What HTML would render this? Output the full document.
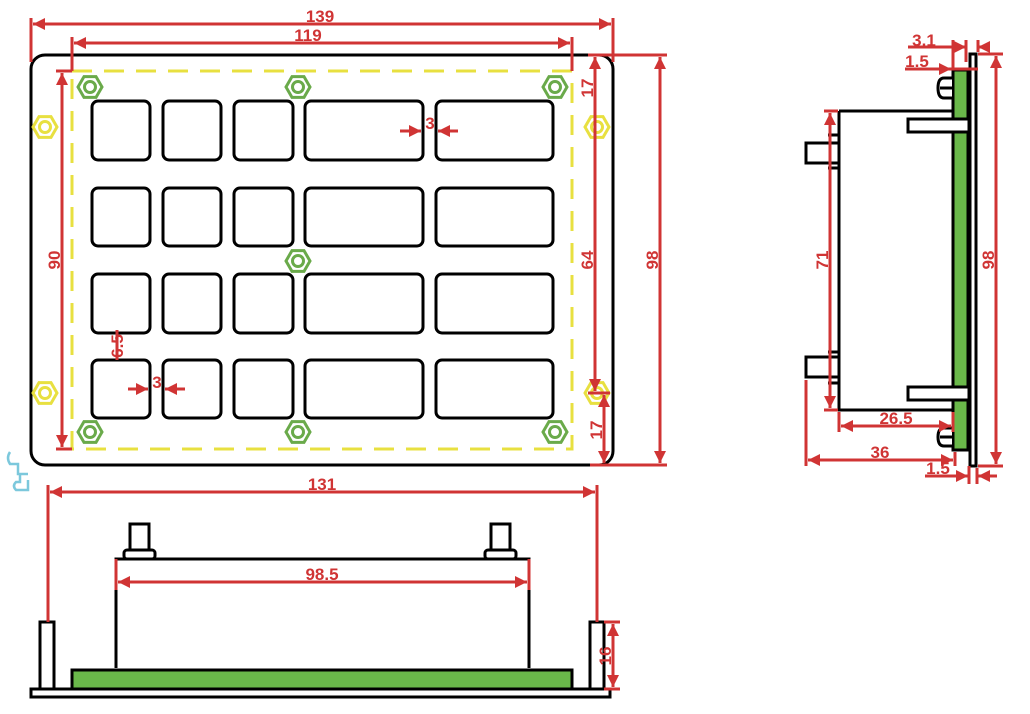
<!DOCTYPE html>
<html><head><meta charset="utf-8"><style>
html,body{margin:0;padding:0;background:#fff;}
svg{display:block;}
text{font-family:"Liberation Sans",sans-serif;font-weight:bold;fill:#d03434;font-size:17px;}
</style></head><body>
<svg width="1030" height="714" viewBox="0 0 1030 714" xmlns="http://www.w3.org/2000/svg">
<defs>
<marker id="a" viewBox="0 0 10 10" refX="10" refY="5" markerWidth="5" markerHeight="4" orient="auto-start-reverse"><path d="M0,0 L10,5 L0,10 z" fill="#d03434"/></marker>
<g id="hg"><polygon points="-12,0 -6,-10.4 6,-10.4 12,0 6,10.4 -6,10.4" fill="none" stroke="#6aaa4a" stroke-width="3"/><circle r="5.5" fill="none" stroke="#6aaa4a" stroke-width="3"/></g>
<g id="hy"><polygon points="-12,0 -6,-10.4 6,-10.4 12,0 6,10.4 -6,10.4" fill="none" stroke="#e8e040" stroke-width="3"/><circle r="5.5" fill="none" stroke="#e8e040" stroke-width="3"/></g>
</defs>

<!-- FRONT VIEW -->
<rect x="31" y="55" width="582" height="410" rx="14" fill="none" stroke="#000" stroke-width="3"/>
<rect x="72" y="71" width="500" height="378" fill="none" stroke="#e8e040" stroke-width="3" stroke-dasharray="20,12"/>
<g fill="none" stroke="#000" stroke-width="3">
<rect x="92" y="101" width="58" height="59" rx="6"/><rect x="163" y="101" width="58" height="59" rx="6"/><rect x="234" y="101" width="59" height="59" rx="6"/><rect x="305" y="101" width="118" height="59" rx="6"/><rect x="436" y="101" width="117" height="59" rx="6"/>
<rect x="92" y="188" width="58" height="58" rx="6"/><rect x="163" y="188" width="58" height="58" rx="6"/><rect x="234" y="188" width="59" height="58" rx="6"/><rect x="305" y="188" width="118" height="58" rx="6"/><rect x="436" y="188" width="117" height="58" rx="6"/>
<rect x="92" y="274" width="58" height="59" rx="6"/><rect x="163" y="274" width="58" height="59" rx="6"/><rect x="234" y="274" width="59" height="59" rx="6"/><rect x="305" y="274" width="118" height="59" rx="6"/><rect x="436" y="274" width="117" height="59" rx="6"/>
<rect x="92" y="360" width="58" height="58" rx="6"/><rect x="163" y="360" width="58" height="58" rx="6"/><rect x="234" y="360" width="59" height="58" rx="6"/><rect x="305" y="360" width="118" height="58" rx="6"/><rect x="436" y="360" width="117" height="58" rx="6"/>
</g>
<use href="#hg" x="90" y="87"/><use href="#hg" x="298" y="87"/><use href="#hg" x="555" y="87"/><use href="#hg" x="298" y="261"/>
<use href="#hg" x="90" y="432"/><use href="#hg" x="298" y="432"/><use href="#hg" x="555" y="432"/>
<use href="#hy" x="45" y="127"/><use href="#hy" x="597" y="127"/><use href="#hy" x="45" y="393"/><use href="#hy" x="597" y="393"/>

<g stroke="#d03434" stroke-width="3" fill="none">
<line x1="31" y1="18" x2="31" y2="62"/><line x1="613" y1="18" x2="613" y2="62"/>
<line x1="33" y1="24" x2="611" y2="24" marker-start="url(#a)" marker-end="url(#a)"/>
<line x1="72" y1="37" x2="72" y2="71"/><line x1="572" y1="37" x2="572" y2="71"/>
<line x1="74" y1="43" x2="570" y2="43" marker-start="url(#a)" marker-end="url(#a)"/>
<line x1="56" y1="71" x2="72" y2="71"/><line x1="56" y1="449" x2="72" y2="449"/>
<line x1="62" y1="73" x2="62" y2="447" marker-start="url(#a)" marker-end="url(#a)"/>
<line x1="588" y1="55" x2="667" y2="55"/><line x1="590" y1="465" x2="667" y2="465"/>
<line x1="660" y1="57" x2="660" y2="463" marker-start="url(#a)" marker-end="url(#a)"/>
<line x1="595" y1="57" x2="595" y2="391" marker-start="url(#a)" marker-end="url(#a)"/>
<line x1="588" y1="393" x2="610" y2="393"/>
<line x1="604" y1="395" x2="604" y2="463" marker-start="url(#a)" marker-end="url(#a)"/>
<line x1="400" y1="131" x2="421" y2="131" marker-end="url(#a)"/><line x1="458" y1="131" x2="438" y2="131" marker-end="url(#a)"/>
<line x1="128" y1="389" x2="148" y2="389" marker-end="url(#a)"/><line x1="185" y1="389" x2="165" y2="389" marker-end="url(#a)"/>
<line x1="117" y1="330" x2="117" y2="360"/>
</g>
<text x="320" y="22" text-anchor="middle">139</text>
<text x="308" y="41" text-anchor="middle">119</text>
<text x="430" y="129" text-anchor="middle">3</text>
<text x="157" y="388" text-anchor="middle">3</text>
<text transform="translate(62,260) rotate(-90)" text-anchor="middle" y="-2">90</text>
<text transform="translate(595,260) rotate(-90)" text-anchor="middle" y="-2">64</text>
<text transform="translate(660,260) rotate(-90)" text-anchor="middle" y="-2">98</text>
<text transform="translate(595,88) rotate(-90)" text-anchor="middle" y="-2">17</text>
<text transform="translate(604,430) rotate(-90)" text-anchor="middle" y="-2">17</text>
<text transform="translate(117,346) rotate(-90)" text-anchor="middle" y="6">6.5</text>
<path d="M10,452 q-4,6 0,12 h8 v10 h10 M20,474 v8 h-4 q-4,4 0,8 h12 v-10" fill="none" stroke="#7cc8dc" stroke-width="2.5"/>

<!-- SIDE VIEW -->
<g stroke="#000" stroke-width="3" fill="#fff">
<rect x="953" y="70" width="15" height="380" fill="#6ab84a"/>
<rect x="970" y="54" width="6" height="412"/>
<path d="M839,111 H953 M839,111 V410 H953" fill="none"/>
<rect x="806" y="143" width="33" height="20"/><rect x="806" y="357" width="33" height="20"/>
<line x1="828" y1="135" x2="840" y2="135"/><line x1="828" y1="168" x2="840" y2="168"/>
<line x1="828" y1="352" x2="840" y2="352"/><line x1="828" y1="383" x2="840" y2="383"/>
<rect x="908" y="119" width="61" height="13"/><rect x="908" y="387" width="61" height="13"/>
<path d="M952,78 h-8 q-6,0 -6,10 q0,10 6,10 h8 M940,88 h12" fill="#fff"/>
<path d="M952,428 h-8 q-6,0 -6,9 q0,9 6,9 h8 M940,437 h12" fill="#fff"/>
</g>
<g stroke="#d03434" stroke-width="3" fill="none">
<line x1="824" y1="111" x2="838" y2="111"/><line x1="824" y1="410" x2="838" y2="410"/>
<line x1="830" y1="113" x2="830" y2="408" marker-start="url(#a)" marker-end="url(#a)"/>
<line x1="978" y1="54" x2="1003" y2="54"/><line x1="978" y1="466" x2="1003" y2="466"/>
<line x1="996" y1="56" x2="996" y2="464" marker-start="url(#a)" marker-end="url(#a)"/>
<line x1="839" y1="412" x2="839" y2="432"/><line x1="953" y1="412" x2="953" y2="432"/>
<line x1="841" y1="426" x2="951" y2="426" marker-start="url(#a)" marker-end="url(#a)"/>
<line x1="806" y1="380" x2="806" y2="466"/><line x1="955" y1="452" x2="955" y2="466"/>
<line x1="808" y1="460" x2="953" y2="460" marker-start="url(#a)" marker-end="url(#a)"/>
<line x1="925" y1="476" x2="968" y2="476" marker-end="url(#a)"/><line x1="997" y1="476" x2="978" y2="476" marker-end="url(#a)"/>
<line x1="969" y1="466" x2="969" y2="484"/><line x1="977" y1="468" x2="977" y2="484"/>
<line x1="908" y1="47" x2="950" y2="47"/><line x1="950" y1="47" x2="966" y2="47" marker-end="url(#a)"/><line x1="990" y1="47" x2="978" y2="47" marker-end="url(#a)"/>
<line x1="966" y1="40" x2="966" y2="62"/><line x1="978" y1="40" x2="978" y2="52"/><line x1="953" y1="40" x2="953" y2="68"/>
<line x1="905" y1="69" x2="951" y2="69" marker-end="url(#a)"/><line x1="951" y1="69" x2="978" y2="69"/>
</g>
<text x="924" y="46" text-anchor="middle">3.1</text>
<text x="917" y="67" text-anchor="middle">1.5</text>
<text x="896" y="424" text-anchor="middle">26.5</text>
<text x="880" y="458" text-anchor="middle">36</text>
<text x="938" y="474" text-anchor="middle">1.5</text>
<text transform="translate(830,260) rotate(-90)" text-anchor="middle" y="-2">71</text>
<text transform="translate(996,260) rotate(-90)" text-anchor="middle" y="-2">98</text>

<!-- BOTTOM VIEW -->
<g stroke="#000" stroke-width="3" fill="#fff">
<rect x="31" y="689" width="579" height="8"/>
<rect x="72" y="670" width="500" height="19" fill="#6ab84a"/>
<line x1="72" y1="670" x2="572" y2="670"/>
<path d="M116,668 V559 H529 V668" fill="none"/>
<rect x="40" y="622" width="14" height="67"/><rect x="590" y="622" width="14" height="67"/>
<rect x="130" y="524" width="19" height="26"/><rect x="124" y="550" width="31" height="9" rx="3"/>
<rect x="491" y="524" width="19" height="26"/><rect x="485" y="550" width="31" height="9" rx="3"/>
</g>
<g stroke="#d03434" stroke-width="3" fill="none">
<line x1="48" y1="485" x2="48" y2="622"/><line x1="597" y1="485" x2="597" y2="622"/>
<line x1="50" y1="492" x2="595" y2="492" marker-start="url(#a)" marker-end="url(#a)"/>
<line x1="116" y1="559" x2="116" y2="590"/><line x1="529" y1="559" x2="529" y2="590"/>
<line x1="118" y1="582" x2="527" y2="582" marker-start="url(#a)" marker-end="url(#a)"/>
<line x1="604" y1="622" x2="620" y2="622"/><line x1="604" y1="689" x2="620" y2="689"/>
<line x1="613" y1="624" x2="613" y2="687" marker-start="url(#a)" marker-end="url(#a)"/>
</g>
<text x="322" y="490" text-anchor="middle">131</text>
<text x="322" y="580" text-anchor="middle">98.5</text>
<text transform="translate(613,656) rotate(-90)" text-anchor="middle" y="-2">16</text>
</svg>
</body></html>
